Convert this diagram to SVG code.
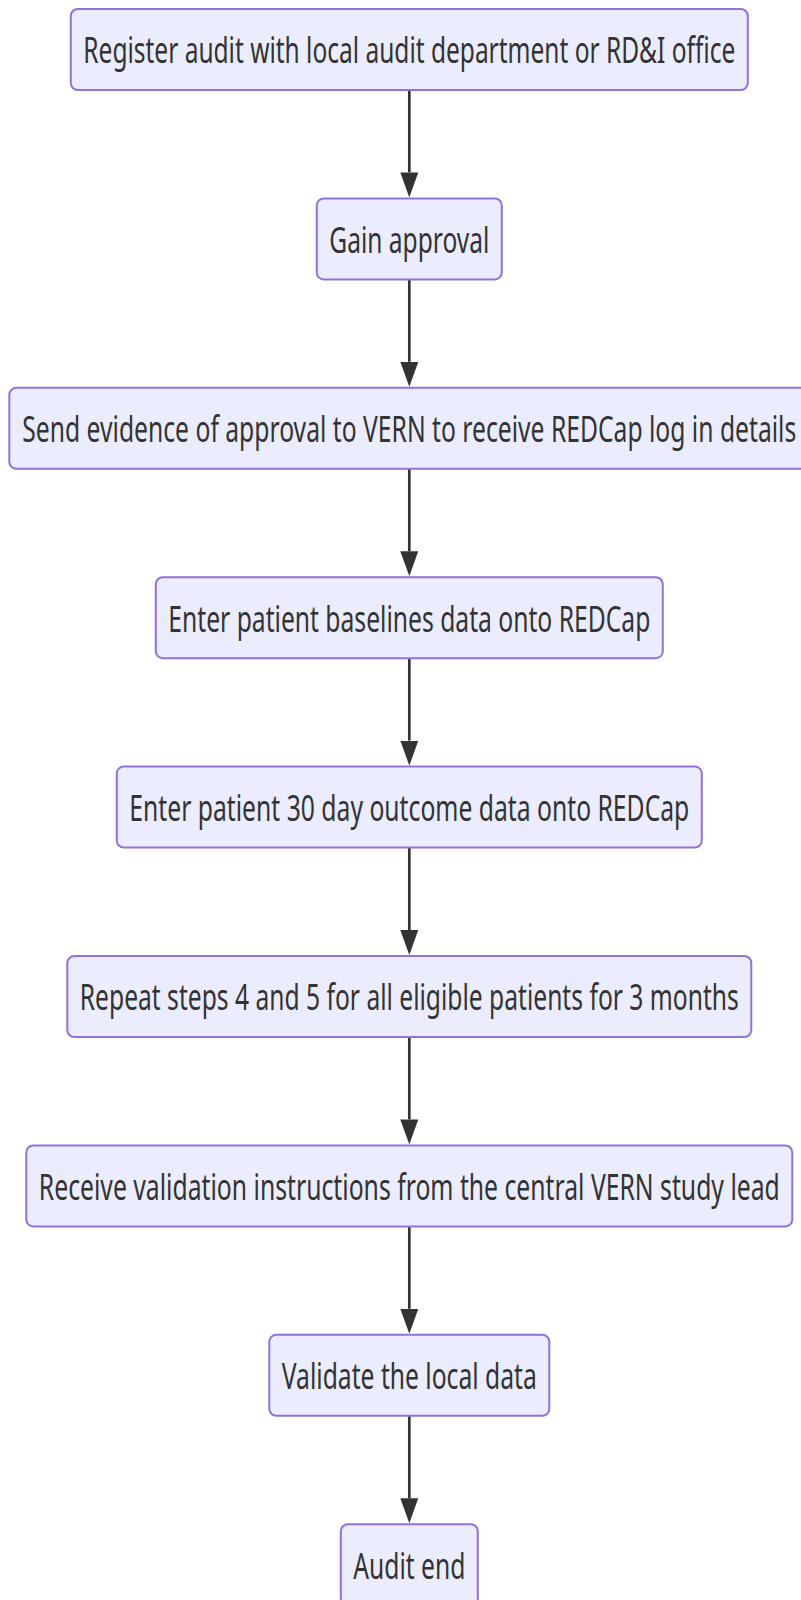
<svg xmlns="http://www.w3.org/2000/svg" width="801" height="1600" viewBox="0 0 801 1600">
<style>
.node rect{fill:#ECECFF;stroke:#9370DB;stroke-width:2}
.node text{font-family:"Noto Sans","Open Sans",sans-serif;font-size:36px;fill:#333333;text-anchor:middle}
.edge{stroke:#333333;stroke-width:2.7;fill:none}
</style>
<defs>
<marker id="arrow" markerUnits="userSpaceOnUse" markerWidth="25" markerHeight="18" refX="0" refY="9" orient="auto">
<path d="M0,0 L25,9 L0,18 z" fill="#333333"/>
</marker>
</defs>
<g id="connectors">
<line class="edge" x1="409.3" y1="90" x2="409.3" y2="172.4" marker-end="url(#arrow)"/>
<line class="edge" x1="409.3" y1="279.4" x2="409.3" y2="361.8" marker-end="url(#arrow)"/>
<line class="edge" x1="409.3" y1="468.8" x2="409.3" y2="551.2" marker-end="url(#arrow)"/>
<line class="edge" x1="409.3" y1="658.2" x2="409.3" y2="740.6" marker-end="url(#arrow)"/>
<line class="edge" x1="409.3" y1="847.6" x2="409.3" y2="930" marker-end="url(#arrow)"/>
<line class="edge" x1="409.3" y1="1037" x2="409.3" y2="1119.4" marker-end="url(#arrow)"/>
<line class="edge" x1="409.3" y1="1226.4" x2="409.3" y2="1308.8" marker-end="url(#arrow)"/>
<line class="edge" x1="409.3" y1="1415.8" x2="409.3" y2="1498.2" marker-end="url(#arrow)"/>
</g>
<g id="n1" class="node"><rect x="70.8" y="9" width="677" height="81" rx="7"/><text transform="translate(409.3,63.3) scale(0.68,1)" x="0" y="0" textLength="958.8" lengthAdjust="spacingAndGlyphs">Register audit with local audit department or RD&amp;I office</text></g>
<g id="n2" class="node"><rect x="316.8" y="198.4" width="185" height="81" rx="7"/><text transform="translate(409.3,252.7) scale(0.68,1)" x="0" y="0" textLength="235.3" lengthAdjust="spacingAndGlyphs">Gain approval</text></g>
<g id="n3" class="node"><rect x="9.3" y="387.8" width="800" height="81" rx="7"/><text transform="translate(409.3,442.1) scale(0.68,1)" x="0" y="0" textLength="1138.2" lengthAdjust="spacingAndGlyphs">Send evidence of approval to VERN to receive REDCap log in details</text></g>
<g id="n4" class="node"><rect x="155.8" y="577.2" width="507" height="81" rx="7"/><text transform="translate(409.3,631.5) scale(0.68,1)" x="0" y="0" textLength="708.8" lengthAdjust="spacingAndGlyphs">Enter patient baselines data onto REDCap</text></g>
<g id="n5" class="node"><rect x="116.8" y="766.6" width="585" height="81" rx="7"/><text transform="translate(409.3,820.9) scale(0.68,1)" x="0" y="0" textLength="823.5" lengthAdjust="spacingAndGlyphs">Enter patient 30 day outcome data onto REDCap</text></g>
<g id="n6" class="node"><rect x="67.3" y="956" width="684" height="81" rx="7"/><text transform="translate(409.3,1010.3) scale(0.68,1)" x="0" y="0" textLength="969.1" lengthAdjust="spacingAndGlyphs">Repeat steps 4 and 5 for all eligible patients for 3 months</text></g>
<g id="n7" class="node"><rect x="26.3" y="1145.4" width="766" height="81" rx="7"/><text transform="translate(409.3,1199.7) scale(0.68,1)" x="0" y="0" textLength="1089.7" lengthAdjust="spacingAndGlyphs">Receive validation instructions from the central VERN study lead</text></g>
<g id="n8" class="node"><rect x="269.3" y="1334.8" width="280" height="81" rx="7"/><text transform="translate(409.3,1389.1) scale(0.68,1)" x="0" y="0" textLength="375" lengthAdjust="spacingAndGlyphs">Validate the local data</text></g>
<g id="n9" class="node"><rect x="340.8" y="1524.2" width="137" height="81" rx="7"/><text transform="translate(409.3,1578.5) scale(0.68,1)" x="0" y="0" textLength="164.7" lengthAdjust="spacingAndGlyphs">Audit end</text></g>
</svg>
